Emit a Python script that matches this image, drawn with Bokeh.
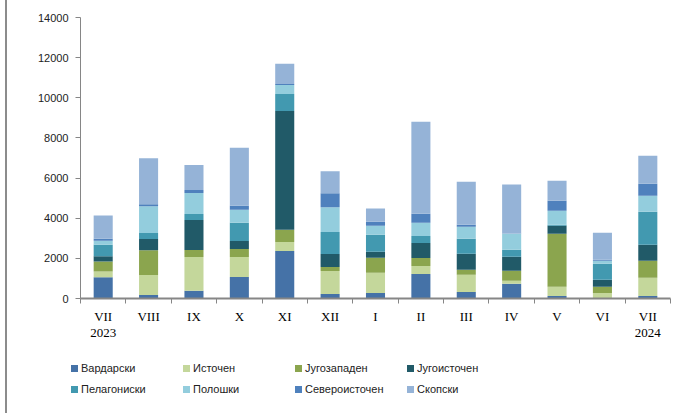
from bokeh.plotting import figure
from bokeh.layouts import column
from bokeh.models import ColumnDataSource, FixedTicker, Div
from bokeh.embed import file_html
from bokeh.resources import INLINE

months = ["VII\n2023", "VIII", "IX", "X", "XI", "XII", "I", "II", "III", "IV", "V", "VI", "VII\n2024"]
regions = ["Вардарски", "Источен", "Југозападен", "Југоисточен",
           "Пелагониски", "Полошки", "Североисточен", "Скопски"]
vardarski     = [1060, 170, 380, 1070, 2370, 230, 280, 1220, 330, 730, 130, 10, 130]
istochen      = [280, 1000, 1690, 1000, 450, 1140, 1000, 400, 850, 150, 450, 270, 900]
jugozapaden   = [500, 1240, 350, 400, 600, 200, 750, 400, 250, 500, 2640, 300, 850]
jugoistochen  = [260, 550, 1490, 400, 5920, 650, 300, 750, 800, 700, 400, 350, 800]
pelagoniski   = [580, 300, 300, 900, 850, 1090, 850, 350, 750, 350, 50, 800, 1640]
poloshki      = [200, 1340, 1050, 650, 450, 1240, 450, 650, 600, 800, 700, 150, 800]
severoistocen = [100, 100, 150, 200, 50, 700, 200, 450, 100, 10, 500, 50, 600]
skopski       = [1150, 2290, 1240, 2890, 1000, 1090, 650, 4580, 2140, 2440, 1000, 1340, 1390]
y_ticks = [0, 2000, 4000, 6000, 8000, 10000, 12000, 14000]

colors = ["#4572A7", "#C4D79B", "#8BA54E", "#215A68",
          "#4299B0", "#93CDDD", "#4F81BD", "#95B3D7"]

series = [vardarski, istochen, jugozapaden, jugoistochen,
          pelagoniski, poloshki, severoistocen, skopski]
keys = ["s%d" % i for i in range(len(regions))]
data = {"x": [i + 0.5 for i in range(len(months))]}
for k, s in zip(keys, series):
    data[k] = s
source = ColumnDataSource(data)

p = figure(width=681, height=350, x_range=(0, len(months)), y_range=(0, 14000),
           output_backend="svg", toolbar_location=None,
           min_border_left=80, min_border_right=11, min_border_top=17, min_border_bottom=52)
p.outline_line_color = None
p.grid.grid_line_color = None
p.background_fill_color = None
p.border_fill_color = None

p.vbar_stack(keys, x="x", width=0.42, color=colors, line_color=None, source=source)

# x axis
xa = p.xaxis[0]
xa.ticker = FixedTicker(ticks=[i + 0.5 for i in range(len(months))],
                        minor_ticks=list(range(len(months) + 1)))
xa.major_label_overrides = {i + 0.5: m for i, m in enumerate(months)}
xa.major_tick_line_color = None
xa.major_tick_out = 0
xa.major_tick_in = 0
xa.minor_tick_line_color = "#868686"
xa.minor_tick_out = 5
xa.minor_tick_in = 0
xa.axis_line_color = "#868686"
xa.axis_line_width = 2
xa.major_label_standoff = 5
xa.major_label_text_font = "Liberation Serif"
xa.major_label_text_font_size = "13px"
xa.major_label_text_line_height = 1.1
xa.major_label_text_color = "black"

# y axis
ya = p.yaxis[0]
ya.ticker = FixedTicker(ticks=y_ticks)
ya.minor_tick_line_color = None
ya.major_tick_out = 5
ya.major_tick_in = 0
ya.major_tick_line_color = "#868686"
ya.axis_line_color = "#868686"
ya.major_label_standoff = 7
ya.major_label_text_font = "Liberation Sans"
ya.major_label_text_font_size = "11px"
ya.major_label_text_color = "#222222"

# legend below the chart (4 columns x 2 rows)
items = []
for i, (name, c) in enumerate(zip(regions, colors)):
    left = 71 + 112 * (i % 4)
    top = 11 + 21 * (i // 4)
    items.append(
        '<div style="position:absolute;left:%dpx;top:%dpx;height:15px;'
        'display:flex;align-items:center;white-space:nowrap;'
        'font-family:\'Liberation Sans\';font-size:11px;color:#222222">'
        '<span style="display:inline-block;width:7px;height:7px;'
        'background:%s;margin-right:3px"></span>%s</div>' % (left, top, c, name))
legend_html = ('<div style="position:relative;width:681px;height:63px">'
               + "".join(items) + "</div>")
leg = Div(text=legend_html, width=681, height=63, margin=0)

layout = column(p, leg, spacing=0,
                styles={"box-shadow": "inset 5px 0 0 white, inset 7px 0 0 #8c8c8c",
                        "background": "white"})
open("out.html", "w").write(file_html(layout, INLINE))
